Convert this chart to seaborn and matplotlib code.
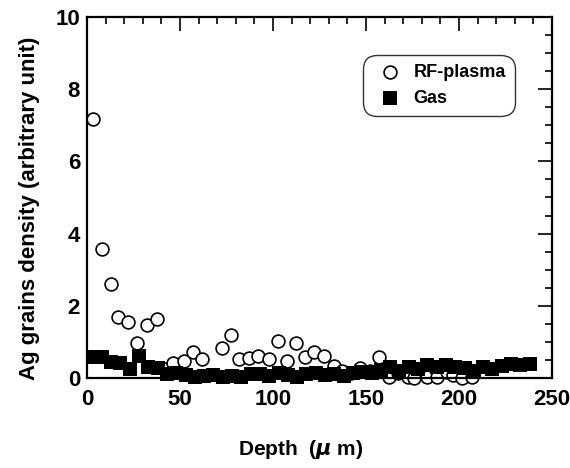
import matplotlib
matplotlib.use("Agg")
import matplotlib.pyplot as plt
from matplotlib.ticker import MultipleLocator
import seaborn as sns
import pandas as pd

# RF-plasma (open circles)
rf_depth = [3.4, 7.9, 12.7, 16.8, 22.2, 27.0, 32.1, 37.5, 42.0, 46.5, 52.2, 57.2, 62.0,
            72.4, 77.4, 81.9, 87.1, 92.1, 97.8, 102.5, 107.3, 112.4, 117.2, 122.0, 127.6,
            132.8, 137.0, 142.0, 146.8, 152.0, 157.2, 162.5, 167.0, 172.6, 176.0, 182.6,
            188.0, 193.4, 197.0, 201.5, 206.8]
rf_density = [7.17, 3.56, 2.61, 1.70, 1.54, 0.96, 1.47, 1.63, 0.25, 0.41, 0.48, 0.73, 0.52,
              0.82, 1.19, 0.52, 0.56, 0.61, 0.52, 1.03, 0.47, 0.98, 0.57, 0.73, 0.61,
              0.33, 0.20, 0.15, 0.27, 0.20, 0.59, 0.03, 0.15, 0.04, 0.00, 0.02,
              0.04, 0.17, 0.08, 0.00, 0.02]

# Gas (filled squares)
gas_depth = [3, 8, 13, 18, 23, 28, 33, 38, 43, 48, 53, 58, 63, 68, 73, 78, 83, 88, 93, 98,
             103, 108, 113, 118, 123, 128, 133, 138, 143, 148, 153, 158, 163, 168, 173, 178,
             183, 188, 193, 198, 203, 208, 213, 218, 223, 228, 233, 238]
gas_density = [0.57, 0.57, 0.45, 0.42, 0.25, 0.62, 0.30, 0.28, 0.12, 0.15, 0.08, 0.02, 0.05,
               0.08, 0.04, 0.06, 0.02, 0.10, 0.12, 0.06, 0.15, 0.08, 0.02, 0.12, 0.15, 0.08,
               0.12, 0.05, 0.15, 0.18, 0.15, 0.22, 0.30, 0.20, 0.30, 0.25, 0.35, 0.30, 0.36,
               0.30, 0.28, 0.20, 0.30, 0.25, 0.32, 0.38, 0.35, 0.38]

rf = pd.DataFrame({"depth": rf_depth, "density": rf_density})
gas = pd.DataFrame({"depth": gas_depth, "density": gas_density})

sns.set_style("white")
plt.rcParams["font.family"] = ["Liberation Sans", "DejaVu Sans"]
plt.rcParams["font.weight"] = "bold"
plt.rcParams["text.color"] = "black"
plt.rcParams["axes.labelcolor"] = "black"
plt.rcParams["xtick.color"] = "black"
plt.rcParams["ytick.color"] = "black"

fig = plt.figure(figsize=(5.7, 4.68), dpi=100)
ax = fig.add_axes([0.1526, 0.1923, 0.8158, 0.7714])

sns.scatterplot(data=rf, x="depth", y="density", marker="o", s=85, facecolor="white",
                edgecolor="black", linewidth=1.2, ax=ax, label="RF-plasma", zorder=2,
                clip_on=False)
sns.scatterplot(data=gas, x="depth", y="density", marker="s", s=95, color="black",
                edgecolor="black", linewidth=0, ax=ax, label="Gas", zorder=3,
                clip_on=False)

ax.set_xlim(0, 250)
ax.set_ylim(0, 10)
ax.xaxis.set_major_locator(MultipleLocator(50))
ax.xaxis.set_minor_locator(MultipleLocator(10))
ax.yaxis.set_major_locator(MultipleLocator(2))
ax.yaxis.set_minor_locator(MultipleLocator(0.5))
ax.tick_params(which="both", direction="in", top=True, right=True, color="black",
               labelcolor="black", width=1.2)
ax.tick_params(which="major", length=10, labelsize=16)
ax.tick_params(which="minor", length=5)
ax.tick_params(axis="x", pad=8)
ax.tick_params(axis="y", pad=5)
for lab in ax.get_xticklabels() + ax.get_yticklabels():
    lab.set_fontweight("bold")
for sp in ax.spines.values():
    sp.set_color("black")
    sp.set_linewidth(1.6)

ax.set_xlabel("Depth  ($\\mu$ m)", fontsize=15, fontweight="bold", color="black")
ax.set_ylabel("Ag grains density (arbitrary unit)", fontsize=16, fontweight="bold",
              color="black")
ax.xaxis.set_label_coords(0.46, -0.165)
ax.yaxis.set_label_coords(-0.1, 0.47)

handles, labels = ax.get_legend_handles_labels()
leg = ax.legend(handles, labels, loc="upper right", bbox_to_anchor=(0.92, 0.895),
                borderaxespad=0, fancybox=True, frameon=True, edgecolor="black",
                handletextpad=0.3, borderpad=0.5, labelspacing=0.5,
                prop={"weight": "bold", "size": 13})
leg.get_frame().set_linewidth(1.0)
leg.get_frame().set_boxstyle("round", pad=0.0, rounding_size=0.8)
leg.set_zorder(5)
for t in leg.get_texts():
    t.set_color("black")

fig.savefig("out.png", dpi=100)
